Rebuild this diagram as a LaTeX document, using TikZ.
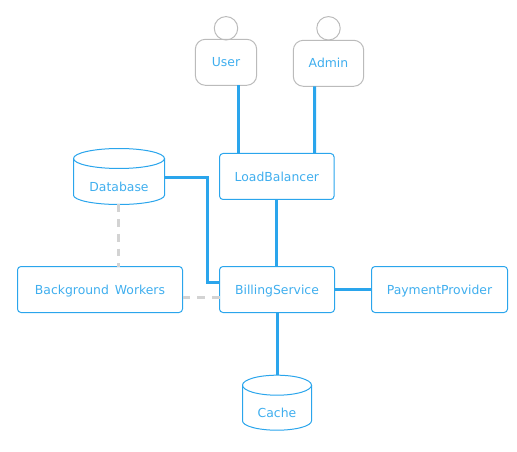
\documentclass[tikz,border=0pt]{standalone}
\usepackage{fontspec}
\setmainfont{DejaVu Sans}
\definecolor{skyline}{HTML}{2AA5EC}
\definecolor{skytext}{HTML}{3FAEEE}
\definecolor{actorline}{HTML}{BBBBBB}
\definecolor{bgline}{HTML}{D3D3D3}
\newcommand{\drawstore}[2]{
\draw[storeline] ([yshift=-7.5pt]#1.north west) arc[start angle=180,delta angle=360,x radius=#2,y radius=7.5pt];
\draw[storeline] ([yshift=-7.5pt]#1.north west) -- ([yshift=7pt]#1.south west) arc[start angle=180,end angle=360,x radius=#2,y radius=7pt] -- ([yshift=-7.5pt]#1.north east);
}
\begin{document}
\begin{tikzpicture}[x=0.75pt,y=-0.75pt,inner sep=0pt,outer sep=0pt,
box/.style={draw=skyline,rectangle,rounded corners=2.6pt,minimum height=34.5pt,line width=0.75pt,text=skytext,text height=6.8pt,text depth=0pt,font=\fontsize{9.3}{12}\selectfont},
actor/.style={draw=actorline,rectangle,rounded corners=7.5pt,minimum height=34.5pt,line width=0.75pt,text=skytext,text height=6.8pt,text depth=0pt,font=\fontsize{9.3}{12}\selectfont},
head/.style={draw=actorline,circle,minimum size=17.6pt,line width=0.75pt},
store/.style={rectangle,text depth=9.75pt,text=skytext,font=\fontsize{9.3}{12}\selectfont},
storeline/.style={draw=skyline,line width=0.75pt},
link/.style={draw=skyline,line width=2.25pt},
bglink/.style={draw=bgline,line width=2.25pt,dash pattern=on 5.8pt off 5.2pt}]
\useasboundingbox (0,0) rectangle (517,452);

\draw (226,28.3) node[head] (userhead) {};
\draw (328.5,28.3) node[head] (adminhead) {};
\draw (226,62.3) node[actor,minimum width=46pt] (user) {User};
\draw (328.5,63.3) node[actor,minimum width=52.8pt] (admin) {Admin};
\draw (276.8,176.5) node[box,minimum width=85.9pt] (lb) {LoadBalancer};
\draw (277,289.5) node[box,minimum width=86.25pt] (billing) {BillingService};
\draw (439.5,289.5) node[box,minimum width=102pt] (payment) {PaymentProvider};
\draw (100,289.5) node[box,minimum width=123.75pt] (workers) {Background\hspace{1.5pt} Workers};
\draw (119,176.5) node[store,minimum width=68.25pt,text height=32.25pt] (db) {Database};
\draw (277,402.7) node[store,minimum width=51.75pt,text height=31.5pt] (cache) {Cache};
\drawstore{db}{34.125pt}
\drawstore{cache}{25.875pt}

\draw[link] ([xshift=9.4pt]user.south) -- ([xshift=-28.7pt]lb.north);
\draw[link] ([xshift=-10.5pt]admin.south) -- ([xshift=28.3pt]lb.north);
\draw[link] (lb.south) -- (lb.south |- billing.north);
\draw[link] ([yshift=-0.6pt]db.east) -- ++(43,0) |- ([yshift=5.6pt]billing.west);
\draw[link] (billing.east) -- (payment.west);
\draw[link] (billing.south) -- (cache.north);
\draw[bglink] ([xshift=-0.4pt]db.south) -- ([xshift=-0.4pt]workers.north -| db.south);
\draw[bglink] ([yshift=-6pt]workers.east) -- ([yshift=-6pt]billing.west);
\end{tikzpicture}
\end{document}
